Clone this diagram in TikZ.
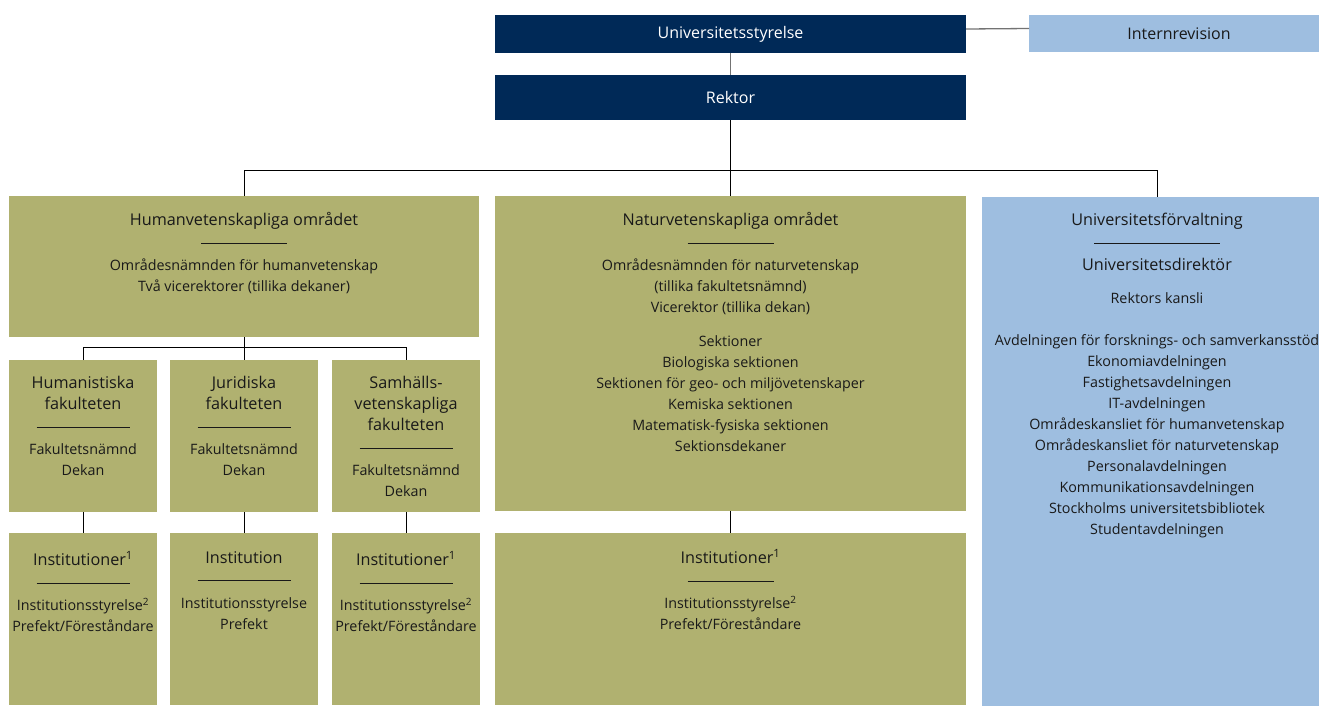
\documentclass[tikz,border=0pt]{standalone}
\usepackage{fontspec}
\setmainfont{Open Sans}
\usetikzlibrary{positioning,calc}

\definecolor{navy}{RGB}{0,41,87}
\definecolor{oliv}{RGB}{176,177,112}
\definecolor{ljusbla}{RGB}{158,190,224}

\begin{document}
\begin{tikzpicture}[x=1pt, y=-1pt,
  ruta/.style={anchor=north west, inner sep=0pt, outer sep=0pt},
  mork/.style={ruta, fill=navy, text=white, font=\fontsize{16}{18}\selectfont},
  gron/.style={ruta, fill=oliv},
  bla/.style={ruta, fill=ljusbla},
  txt/.style={align=center, inner sep=0pt, text=black!90, font=\fontsize{14.3}{21}\selectfont},
  linje/.style={draw=black, line width=0.9pt},
  grålinje/.style={draw=black!55, line width=1.3pt}]
\useasboundingbox (0,0) rectangle (1319,705);

% Universitetsstyrelse
\node[mork, minimum width=471pt, minimum height=38pt] (styrelse) at (495,15) {Universitetsstyrelse};
% Internrevision
\node[bla, minimum width=300pt, minimum height=37pt, font=\fontsize{16}{18}\selectfont, text=black!90] (internrev) at (1029,15) {Internrevision};
% Rektor
\node[mork, minimum width=471pt, minimum height=45pt] (rektor) at (495,75) {Rektor};

% Humanvetenskapliga området
\node[gron, minimum width=470pt, minimum height=141pt] (humomr) at (9,196) {};
\node[txt, below=16pt of humomr.north] (humomrtext) {
{\fontsize{16.2}{21}\selectfont Humanvetenskapliga området} \\[-3pt]
\rule{86pt}{0.8pt} \\[6pt]
Områdesnämnden för humanvetenskap \\
Två vicerektorer (tillika dekaner)
};

% Naturvetenskapliga området
\node[gron, minimum width=471pt, minimum height=315pt] (naturomr) at (495,196) {};
\node[txt, below=16pt of naturomr.north] (naturomrtext) {
{\fontsize{16.2}{21}\selectfont Naturvetenskapliga området} \\[-3pt]
\rule{86pt}{0.8pt} \\[6pt]
Områdesnämnden för naturvetenskap \\
(tillika fakultetsnämnd) \\
Vicerektor (tillika dekan) \\[13pt]
Sektioner \\
Biologiska sektionen \\
Sektionen för geo- och miljövetenskaper \\
Kemiska sektionen \\
Matematisk-fysiska sektionen \\
Sektionsdekaner
};

% Universitetsförvaltning
\node[bla, minimum width=350pt, minimum height=520pt] (forvaltning) at (982,197) {};
\node[txt, below=16pt of forvaltning.north] (forvaltningtext) {
{\fontsize{16.2}{21}\selectfont Universitetsförvaltning} \\[-3pt]
\rule{126pt}{0.8pt} \\[6pt]
{\fontsize{16.2}{21}\selectfont Universitetsdirektör} \\[12pt]
Rektors kansli \\[21pt]
Avdelningen för forsknings- och samverkansstöd \\
Ekonomiavdelningen \\
Fastighetsavdelningen \\
IT-avdelningen \\
Områdeskansliet för humanvetenskap \\
Områdeskansliet för naturvetenskap \\
Personalavdelningen \\
Kommunikationsavdelningen \\
Stockholms universitetsbibliotek \\
Studentavdelningen
};

% Fakulteter
\node[gron, minimum width=148pt, minimum height=152pt] (humfak) at (9,360) {};
\node[txt, below=16pt of humfak.north] (humfaktext) {
{\fontsize{16.2}{21}\selectfont Humanistiska} \\
{\fontsize{16.2}{21}\selectfont fakulteten} \\[-3pt]
\rule{93pt}{0.8pt} \\[6pt]
Fakultetsnämnd \\
Dekan
};
\node[gron, minimum width=148pt, minimum height=152pt] (jurfak) at (170,360) {};
\node[txt, below=16pt of jurfak.north] (jurfaktext) {
{\fontsize{16.2}{21}\selectfont Juridiska} \\
{\fontsize{16.2}{21}\selectfont fakulteten} \\[-3pt]
\rule{93pt}{0.8pt} \\[6pt]
Fakultetsnämnd \\
Dekan
};
\node[gron, minimum width=148pt, minimum height=152pt] (samfak) at (332,360) {};
\node[txt, below=16pt of samfak.north] (samfaktext) {
{\fontsize{16.2}{21}\selectfont Samhälls-} \\
{\fontsize{16.2}{21}\selectfont vetenskapliga} \\
{\fontsize{16.2}{21}\selectfont fakulteten} \\[-3pt]
\rule{93pt}{0.8pt} \\[6pt]
Fakultetsnämnd \\
Dekan
};

% Institutioner
\node[gron, minimum width=148pt, minimum height=172pt] (huminst) at (9,533) {};
\node[txt, below=18pt of huminst.north] (huminsttext) {
{\fontsize{16.2}{21}\selectfont Institutioner\textsuperscript{1}} \\[-3pt]
\rule{93pt}{0.8pt} \\[6pt]
Institutionsstyrelse\textsuperscript{2} \\
Prefekt/Föreståndare
};
\node[gron, minimum width=148pt, minimum height=172pt] (jurinst) at (170,533) {};
\node[txt, below=18pt of jurinst.north] (jurinsttext) {
{\fontsize{16.2}{21}\selectfont Institution} \\[-3pt]
\rule{93pt}{0.8pt} \\[6pt]
Institutionsstyrelse \\
Prefekt
};
\node[gron, minimum width=148pt, minimum height=172pt] (saminst) at (332,533) {};
\node[txt, below=18pt of saminst.north] (saminsttext) {
{\fontsize{16.2}{21}\selectfont Institutioner\textsuperscript{1}} \\[-3pt]
\rule{93pt}{0.8pt} \\[6pt]
Institutionsstyrelse\textsuperscript{2} \\
Prefekt/Föreståndare
};
\node[gron, minimum width=471pt, minimum height=172pt] (naturinst) at (495,533) {};
\node[txt, below=16pt of naturinst.north] (naturinsttext) {
{\fontsize{16.2}{21}\selectfont Institutioner\textsuperscript{1}} \\[-3pt]
\rule{86pt}{0.8pt} \\[6pt]
Institutionsstyrelse\textsuperscript{2} \\
Prefekt/Föreståndare
};

% Kopplingar
\draw[grålinje] ([yshift=5pt]styrelse.east) -- ([yshift=5pt]internrev.west);
\draw[grålinje] (styrelse) -- (rektor);
\draw[linje] (rektor) -- (naturomr);
\draw[linje] (humomr.north) -- ++(0,-26) -| (forvaltning.north);
\draw[linje] (humomr) -- (jurfak);
\draw[linje] (humfak.north) -- ++(0,-13) -| (samfak.north);
\draw[linje] (humfak) -- (huminst);
\draw[linje] (jurfak) -- (jurinst);
\draw[linje] (samfak) -- (saminst);
\draw[linje] (naturomr) -- (naturinst);
\end{tikzpicture}
\end{document}
